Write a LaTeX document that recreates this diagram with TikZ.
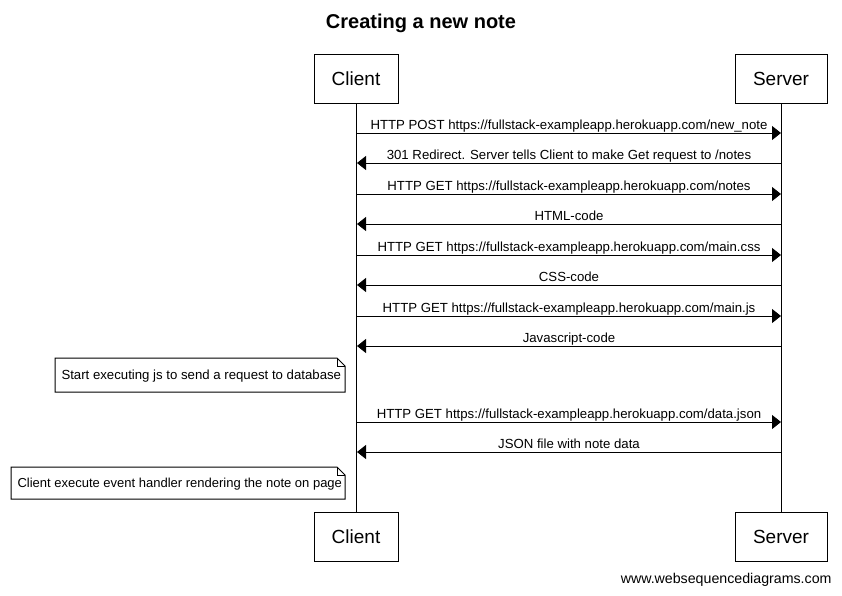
\documentclass[tikz,border=0pt]{standalone}
\usepackage{fontspec}
\setmainfont{Liberation Sans}
\usetikzlibrary{arrows.meta}
\begin{document}
\begin{tikzpicture}[x=1pt,y=-1pt,line width=1pt,
  actor/.style={draw,fill=white,minimum height=49pt,inner sep=0pt,font=\fontsize{19}{22}\selectfont},
  msg/.style={draw,-{Triangle[length=9pt,width=14pt]}},
  lbl/.style={font=\fontsize{13.2}{15}\selectfont,inner sep=0pt,anchor=base},
  notetext/.style={font=\fontsize{13}{15}\selectfont,inner sep=0pt,anchor=west},
  life/.style={draw,line width=1pt}]
\useasboundingbox (0,0) rectangle (842,595);
\node[font=\bfseries\fontsize{20}{23}\selectfont] (title) at (421,23) {Creating a new note};
\node[actor,minimum width=84pt] (ct) at (356,78.5) {Client};
\node[actor,minimum width=92pt] (st) at (781,78.5) {Server};
\node[actor,minimum width=84pt] (cb) at (356,536.5) {Client};
\node[actor,minimum width=92pt] (sb) at (781,536.5) {Server};
\draw[life] (ct.south) -- (cb.north);
\draw[life] (st.south) -- (sb.north);
% messages
\foreach \i/\y in {1/133,2/163,3/194,4/224,5/255,6/285,7/316,8/346,9/422,10/452}{
  \coordinate (c\i) at (357,\y);
  \coordinate (s\i) at (781,\y);
}
\draw[msg] (c1) -- (s1);
\draw[msg] (s2) -- (c2);
\draw[msg] (c3) -- (s3);
\draw[msg] (s4) -- (c4);
\draw[msg] (c5) -- (s5);
\draw[msg] (s6) -- (c6);
\draw[msg] (c7) -- (s7);
\draw[msg] (s8) -- (c8);
\draw[msg] (c9) -- (s9);
\draw[msg] (s10) -- (c10);
\node[lbl] (l1) at (569,129) {HTTP POST https://fullstack-exampleapp.herokuapp.com/new\_note};
\node[lbl] (l2) at (569,159) {301 Redirect. Server tells Client to make Get request to /notes};
\node[lbl] (l3) at (569,190) {HTTP GET https://fullstack-exampleapp.herokuapp.com/notes};
\node[lbl] (l4) at (569,220) {HTML-code};
\node[lbl] (l5) at (569,251) {HTTP GET https://fullstack-exampleapp.herokuapp.com/main.css};
\node[lbl] (l6) at (569,281) {CSS-code};
\node[lbl] (l7) at (569,312) {HTTP GET https://fullstack-exampleapp.herokuapp.com/main.js};
\node[lbl] (l8) at (569,342) {Javascript-code};
\node[lbl] (l9) at (569,418) {HTTP GET https://fullstack-exampleapp.herokuapp.com/data.json};
\node[lbl] (l10) at (569,448) {JSON file with note data};
% notes
\draw (55,358) -- (337,358) -- (345,366) -- (345,392) -- (55,392) -- cycle;
\draw (337,358) -- (337,366) -- (345,366);
\node[notetext,font=\fontsize{13.2}{15}\selectfont] (n1) at (61,376) {Start executing js to send a request to database};
\draw (11,467) -- (337,467) -- (345,475) -- (345,499) -- (11,499) -- cycle;
\draw (337,467) -- (337,475) -- (345,475);
\node[notetext] (n2) at (17,484) {Client execute event handler rendering the note on page};
\node[font=\fontsize{14.2}{16}\selectfont,inner sep=0pt,anchor=east] (foot) at (832,580) {www.websequencediagrams.com};
\end{tikzpicture}
\end{document}
